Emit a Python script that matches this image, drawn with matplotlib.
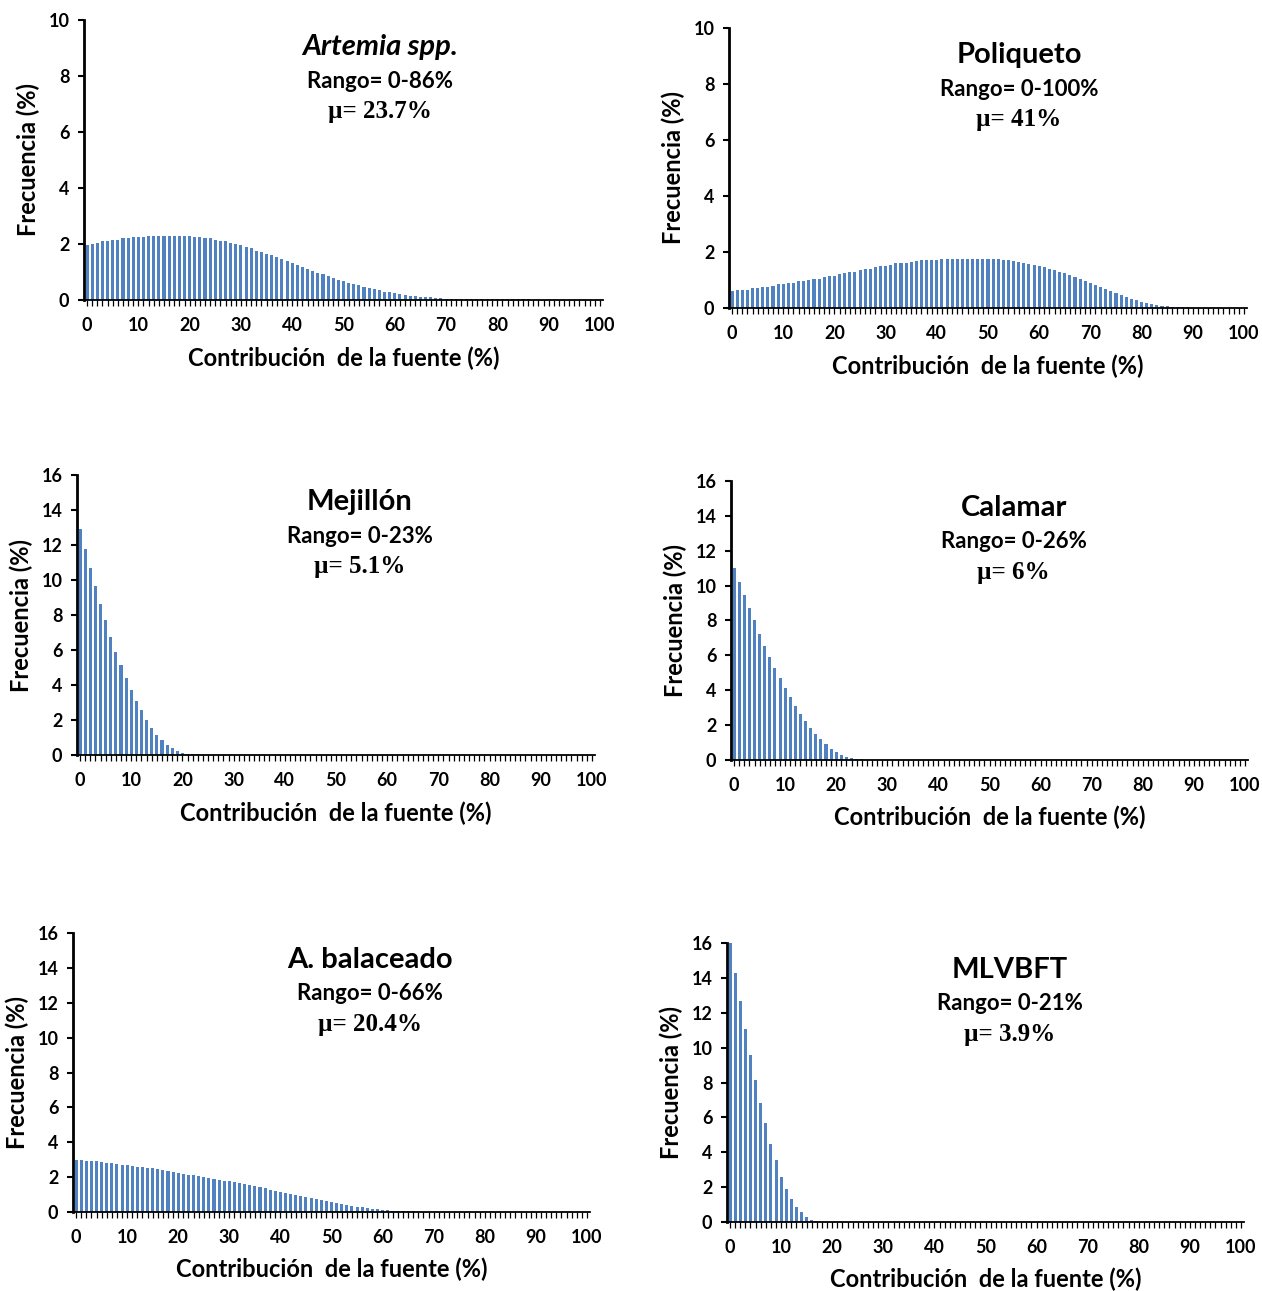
import matplotlib
matplotlib.use("Agg")
import matplotlib.pyplot as plt
import numpy as np

# categories: contribution of the source (%), one bar per integer value
contribution = list(range(0, 101))
tick_labels = [str(v) for v in range(0, 101, 10)]

artemia = [
    1.95, 2.0, 2.05, 2.1, 2.1, 2.15, 2.15, 2.2, 2.2, 2.25,
    2.25, 2.25, 2.28, 2.28, 2.28, 2.28, 2.28, 2.28, 2.28, 2.28,
    2.28, 2.25, 2.25, 2.2, 2.2, 2.15, 2.1, 2.1, 2.05, 2.0,
    1.95, 1.9, 1.85, 1.75, 1.7, 1.65, 1.6, 1.52, 1.45, 1.38,
    1.32, 1.25, 1.18, 1.12, 1.05, 0.98, 0.92, 0.85, 0.8, 0.73,
    0.67, 0.62, 0.57, 0.52, 0.47, 0.42, 0.38, 0.34, 0.3, 0.27,
    0.24, 0.21, 0.18, 0.16, 0.14, 0.12, 0.1, 0.09, 0.07, 0.06,
    0.05, 0.05, 0.05, 0.05, 0.04, 0.04, 0.04, 0.04, 0.04, 0.04,
    0.04, 0.04, 0.04, 0.04, 0.04, 0.04, 0.04, 0, 0, 0,
    0, 0, 0, 0, 0, 0, 0, 0, 0, 0,
    0,
]

poliqueto = [
    0.6, 0.65, 0.65, 0.65, 0.7, 0.7, 0.75, 0.75, 0.8, 0.85,
    0.85, 0.9, 0.9, 0.95, 0.95, 1.0, 1.05, 1.05, 1.1, 1.15,
    1.15, 1.2, 1.25, 1.3, 1.3, 1.35, 1.4, 1.4, 1.45, 1.5,
    1.5, 1.55, 1.6, 1.6, 1.62, 1.65, 1.68, 1.7, 1.7, 1.72,
    1.72, 1.75, 1.75, 1.75, 1.75, 1.75, 1.75, 1.75, 1.75, 1.75,
    1.75, 1.75, 1.75, 1.72, 1.7, 1.68, 1.65, 1.62, 1.58, 1.55,
    1.5, 1.45, 1.4, 1.35, 1.3, 1.25, 1.18, 1.12, 1.05, 0.98,
    0.9, 0.82, 0.75, 0.67, 0.6, 0.52, 0.45, 0.38, 0.32, 0.27,
    0.22, 0.18, 0.14, 0.11, 0.08, 0.06, 0.05, 0.03, 0.02, 0.02,
    0.01, 0.01, 0.01, 0.01, 0.01, 0, 0, 0, 0, 0,
    0,
]

mejillon = [
    12.9, 11.8, 10.7, 9.65, 8.65, 7.7, 6.75, 5.9, 5.15, 4.4,
    3.7, 3.1, 2.55, 2.0, 1.55, 1.15, 0.85, 0.6, 0.38, 0.22,
    0.12, 0.08, 0.06, 0.05, 0, 0, 0, 0, 0, 0,
    0, 0, 0, 0, 0, 0, 0, 0, 0, 0,
    0, 0, 0, 0, 0, 0, 0, 0, 0, 0,
    0, 0, 0, 0, 0, 0, 0, 0, 0, 0,
    0, 0, 0, 0, 0, 0, 0, 0, 0, 0,
    0, 0, 0, 0, 0, 0, 0, 0, 0, 0,
    0, 0, 0, 0, 0, 0, 0, 0, 0, 0,
    0, 0, 0, 0, 0, 0, 0, 0, 0, 0,
    0,
]

calamar = [
    11.0, 10.2, 9.45, 8.7, 8.0, 7.25, 6.55, 5.9, 5.3, 4.7,
    4.15, 3.6, 3.1, 2.65, 2.25, 1.85, 1.5, 1.2, 0.9, 0.65,
    0.45, 0.3, 0.18, 0.1, 0.05, 0.03, 0.02, 0, 0, 0,
    0, 0, 0, 0, 0, 0, 0, 0, 0, 0,
    0, 0, 0, 0, 0, 0, 0, 0, 0, 0,
    0, 0, 0, 0, 0, 0, 0, 0, 0, 0,
    0, 0, 0, 0, 0, 0, 0, 0, 0, 0,
    0, 0, 0, 0, 0, 0, 0, 0, 0, 0,
    0, 0, 0, 0, 0, 0, 0, 0, 0, 0,
    0, 0, 0, 0, 0, 0, 0, 0, 0, 0,
    0,
]

balaceado = [
    3.0, 3.0, 2.95, 2.95, 2.9, 2.85, 2.8, 2.8, 2.75, 2.72,
    2.7, 2.65, 2.6, 2.58, 2.55, 2.5, 2.45, 2.38, 2.33, 2.3,
    2.25, 2.2, 2.15, 2.1, 2.05, 2.0, 1.95, 1.9, 1.85, 1.8,
    1.75, 1.7, 1.65, 1.58, 1.52, 1.48, 1.42, 1.35, 1.28, 1.22,
    1.16, 1.1, 1.04, 0.98, 0.92, 0.86, 0.8, 0.74, 0.68, 0.62,
    0.56, 0.5, 0.45, 0.4, 0.35, 0.3, 0.26, 0.22, 0.18, 0.15,
    0.12, 0.1, 0.08, 0.07, 0.06, 0.05, 0.04, 0, 0, 0,
    0, 0, 0, 0, 0, 0, 0, 0, 0, 0,
    0, 0, 0, 0, 0, 0, 0, 0, 0, 0,
    0, 0, 0, 0, 0, 0, 0, 0, 0, 0,
    0,
]

mlvbft = [
    16.0, 14.3, 12.65, 11.05, 9.6, 8.15, 6.85, 5.65, 4.5, 3.55,
    2.6, 1.9, 1.3, 0.85, 0.55, 0.3, 0.12, 0.05, 0.02, 0,
    0, 0, 0, 0, 0, 0, 0, 0, 0, 0,
    0, 0, 0, 0, 0, 0, 0, 0, 0, 0,
    0, 0, 0, 0, 0, 0, 0, 0, 0, 0,
    0, 0, 0, 0, 0, 0, 0, 0, 0, 0,
    0, 0, 0, 0, 0, 0, 0, 0, 0, 0,
    0, 0, 0, 0, 0, 0, 0, 0, 0, 0,
    0, 0, 0, 0, 0, 0, 0, 0, 0, 0,
    0, 0, 0, 0, 0, 0, 0, 0, 0, 0,
    0,
]

names = ["Artemia spp.", "Poliqueto", "Mejillón", "Calamar", "A. balaceado", "MLVBFT"]
ranges = ["Rango= 0-86%", "Rango= 0-100%", "Rango= 0-23%", "Rango= 0-26%",
          "Rango= 0-66%", "Rango= 0-21%"]
means = ["µ= 23.7%", "µ= 41%", "µ= 5.1%", "µ= 6%", "µ= 20.4%", "µ= 3.9%"]
series = [artemia, poliqueto, mejillon, calamar, balaceado, mlvbft]
ymax = [10, 10, 16, 16, 16, 16]
ystep = [2, 2, 2, 2, 2, 2]

# axes boxes in pixels: left, top, right, bottom
W, H = 1262, 1291
boxes = [
    (84, 20, 603, 300),
    (729, 28, 1247, 308),
    (77, 475, 595, 755),
    (731, 481, 1248, 760),
    (73, 933, 590, 1212),
    (727, 943, 1244, 1222),
]
title_x = [0.57, 0.56, 0.546, 0.547, 0.574, 0.547]

BAR = "#5082c2"
SANS = "Lato"
SERIF = "Liberation Serif"

fig = plt.figure(figsize=(W / 100, H / 100), dpi=100)

for i in range(6):
    l, t, r, b = boxes[i]
    ax = fig.add_axes([l / W, 1 - b / H, (r - l) / W, (b - t) / H])
    ax.bar(contribution, series[i], width=0.6, color=BAR, linewidth=0)

    ax.set_xlim(-0.6, 100.6)
    ax.set_ylim(0, ymax[i])
    ax.set_xticks(range(0, 101, 10))
    ax.set_xticklabels(tick_labels)
    ax.set_xticks(contribution, minor=True)
    ax.set_yticks(np.arange(0, ymax[i] + 1, ystep[i]))

    for s in ["top", "right"]:
        ax.spines[s].set_visible(False)
    ax.spines["left"].set_linewidth(2.0)
    ax.spines["bottom"].set_linewidth(1.3)

    ax.tick_params(axis="x", which="both", direction="out", length=4, width=0.9,
                   pad=8)
    ax.tick_params(axis="y", direction="out", length=4.5, width=1.5, pad=6)
    for lab in ax.get_xticklabels() + ax.get_yticklabels():
        lab.set_fontfamily(SANS)
        lab.set_fontweight("bold")
        lab.set_fontsize(13)

    ax.text(-0.108, 0.5, "Frecuencia (%)", transform=ax.transAxes, rotation=90,
            ha="center", va="center", fontsize=17, fontweight="bold",
            fontfamily=SANS)
    ax.text(0.5, -0.207, "Contribución  de la fuente (%)", transform=ax.transAxes,
            ha="center", va="center", fontsize=17, fontweight="bold",
            fontfamily=SANS)

    style = "italic" if i == 0 else "normal"
    ax.text(title_x[i], 0.905, names[i], transform=ax.transAxes, ha="center",
            va="center", fontsize=21, fontweight="bold", fontstyle=style,
            fontfamily=SANS)
    ax.text(title_x[i], 0.782, ranges[i], transform=ax.transAxes, ha="center",
            va="center", fontsize=16, fontweight="bold", fontfamily=SANS)
    ax.text(title_x[i], 0.672, means[i], transform=ax.transAxes, ha="center",
            va="center", fontsize=18, fontweight="bold", fontfamily=SERIF)

fig.savefig("out.png", dpi=100)
